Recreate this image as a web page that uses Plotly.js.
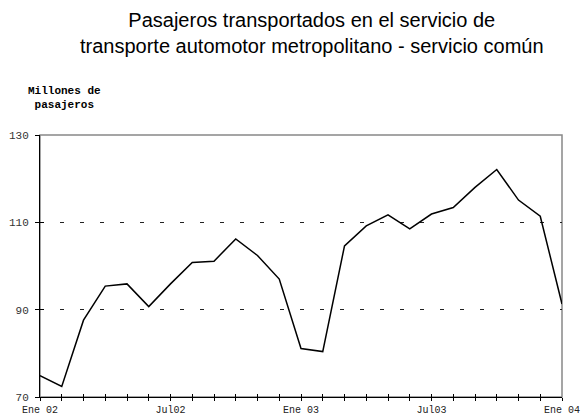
<!DOCTYPE html>
<html>
<head>
<meta charset="utf-8">
<script src="https://cdn.plot.ly/plotly-3.0.1.min.js"></script>
<style>html,body{margin:0;padding:0;background:#fff}#chart{width:581px;height:416px}</style>
</head>
<body>
<div id="chart"></div>
<script>
const months = ["Ene 02","Feb 02","Mar 02","Abr 02","May 02","Jun 02","Jul02","Ago 02","Sep 02","Oct 02","Nov 02","Dic 02",
  "Ene 03","Feb 03","Mar 03","Abr 03","May 03","Jun 03","Jul03","Ago 03","Sep 03","Oct 03","Nov 03","Dic 03","Ene 04"];
const pasajeros = [74.9, 72.4, 87.6, 95.4, 95.9, 90.7, 95.9, 100.8, 101.1, 106.2, 102.4, 97.0,
  81.1, 80.4, 104.6, 109.2, 111.7, 108.5, 111.9, 113.4, 118.0, 122.1, 115.1, 111.4, 91.3];
const labeledMonths = ["Ene 02","Jul02","Ene 03","Jul03","Ene 04"];
const yTicks = [70, 90, 110, 130];

const tickText = months.map(m => labeledMonths.includes(m) ? m : "");
const mono = "Liberation Mono, Courier New, monospace";

const trace = {
  x: months, y: pasajeros, type: "scatter", mode: "lines",
  line: {color: "#000", width: 1.5}, hoverinfo: "skip"
};
const ghost = {x: months, y: pasajeros, xaxis: "x2", yaxis: "y2", type: "scatter", mode: "lines",
  line: {color: "rgba(0,0,0,0)"}, hoverinfo: "skip", showlegend: false};

const layout = {
  width: 581, height: 416,
  margin: {l: 40, r: 19, t: 135, b: 19},
  paper_bgcolor: "#fff", plot_bgcolor: "#fff",
  showlegend: false,
  xaxis: {
    type: "category", range: [0, months.length - 1],
    tickmode: "array", tickvals: months, ticktext: tickText,
    ticks: "outside", ticklen: 3, tickcolor: "#000", tickwidth: 1,
    showline: true, linecolor: "#000", linewidth: 1,
    showgrid: false, zeroline: false,
    tickfont: {family: mono, size: 10, color: "#222"}, tickangle: 0
  },
  xaxis2: {
    type: "category", range: [0, months.length - 1], overlaying: "x",
    tickmode: "array", tickvals: months, ticktext: months.map(() => ""),
    ticks: "inside", ticklen: 3, tickcolor: "#000", showline: false,
    showgrid: false, zeroline: false, side: "bottom", anchor: "y2"
  },
  yaxis: {
    range: [70, 130], tickmode: "array", tickvals: yTicks,
    ticks: "outside", ticklen: 4, tickcolor: "#000",
    showline: true, linecolor: "#000", linewidth: 1,
    showgrid: true, gridcolor: "#222", gridwidth: 1, griddash: "4px,16px",
    zeroline: false, ticklabelstandoff: 4,
    tickfont: {family: mono, size: 11, color: "#333"}
  },
  yaxis2: {
    range: [70, 130], tickmode: "array", tickvals: yTicks, ticktext: yTicks.map(() => ""),
    overlaying: "y", side: "left", anchor: "x2",
    ticks: "inside", ticklen: 4, tickcolor: "#000",
    showline: false, showgrid: false, zeroline: false
  },
  shapes: [{
    type: "rect", xref: "paper", yref: "paper", x0: 0, x1: 1, y0: 0, y1: 1,
    line: {color: "#888", width: 1.5}, layer: "below"
  }],
  annotations: [
    {
      text: "Pasajeros transportados en el servicio de<br>transporte automotor metropolitano - servicio común",
      showarrow: false, xref: "paper", yref: "paper",
      x: (312 - 40) / 522, y: (397 - 7) / 262, xanchor: "center", yanchor: "top",
      align: "center",
      font: {family: "Liberation Sans, Arial, sans-serif", size: 20, color: "#000"}
    },
    {
      text: "<b>Millones de<br> pasajeros</b>", showarrow: false,
      xref: "paper", yref: "paper", x: (26 - 40) / 522, y: (397 - 113) / 262,
      xanchor: "left", yanchor: "bottom", align: "left",
      font: {family: mono, size: 11, color: "#000"}
    }
  ]
};

Plotly.newPlot("chart", [trace, ghost], layout, {displayModeBar: false, staticPlot: true});
</script>
</body>
</html>
